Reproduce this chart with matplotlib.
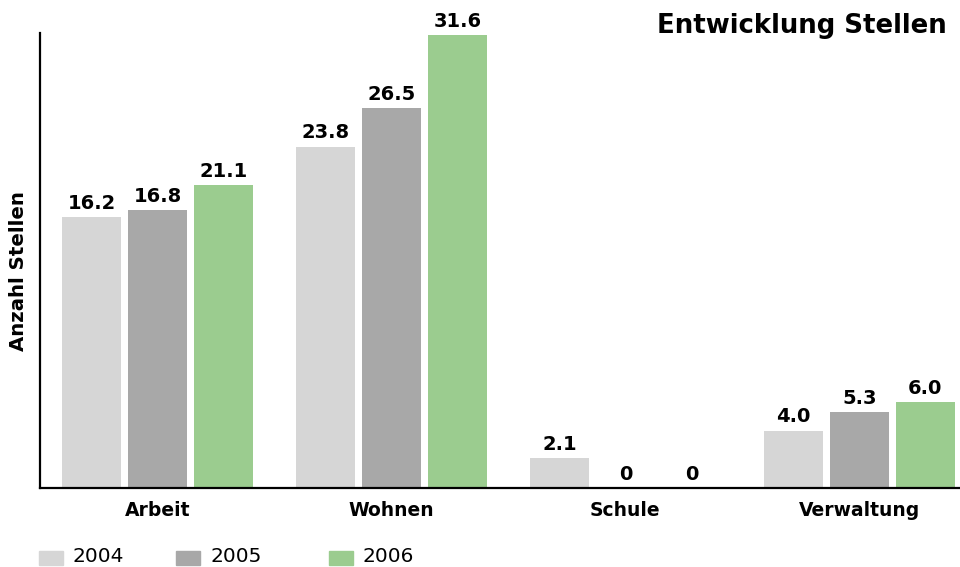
import numpy as np
import matplotlib
matplotlib.use("Agg")
import matplotlib.pyplot as plt
from matplotlib.patches import Rectangle

plt.rcParams['font.family'] = ['DejaVu Sans']

categories = ["Arbeit", "Wohnen", "Schule", "Verwaltung"]
years = ["2004", "2005", "2006"]
# bar heights as drawn in the picture
v2004 = [18.9, 23.8, 2.1, 4.0]
v2005 = [19.4, 26.5, 0.0, 5.3]
v2006 = [21.1, 31.6, 0.0, 6.0]
# printed value labels
l2004 = ["16.2", "23.8", "2.1", "4.0"]
l2005 = ["16.8", "26.5", "0", "5.3"]
l2006 = ["21.1", "31.6", "0", "6.0"]
colors = ["#d6d6d6", "#a8a8a8", "#9bcc8f"]

fig = plt.figure(figsize=(9.6, 5.67), dpi=100)
ax = fig.add_axes([40 / 960, 79 / 567, 920 / 960, 455 / 567])

x = np.arange(len(categories))
w = 0.252
off = 0.282
for i, (vals, labs) in enumerate(zip([v2004, v2005, v2006], [l2004, l2005, l2006])):
    xs = x + (i - 1) * off
    ax.bar(xs, vals, width=w, color=colors[i], linewidth=0)
    for xi, v, t in zip(xs, vals, labs):
        ax.text(xi, v + 0.3, t, ha="center", va="bottom", fontsize=14,
                fontweight="bold", clip_on=False)

ax.set_xlim(-0.502, 3.43)
ax.set_ylim(0, 31.73)
ax.set_xticks(x)
ax.set_xticklabels(categories, fontsize=13.5, fontweight="bold")
ax.tick_params(axis="x", length=0, pad=9)
ax.set_yticks([])
for s in ["top", "right"]:
    ax.spines[s].set_visible(False)
ax.spines["left"].set_linewidth(1.6)
ax.spines["bottom"].set_linewidth(1.6)

fig.text(19 / 960, 1 - 271 / 567, "Anzahl Stellen", rotation=90, ha="center",
         va="center", fontsize=14.2, fontweight="bold")
fig.text(947 / 960, 1 - 33 / 567, "Entwicklung Stellen", ha="right", va="baseline",
         fontsize=18.7, fontweight="bold")

# legend
leg_x = [39, 176, 329]
for lx, c, y in zip(leg_x, colors, years):
    fig.patches.append(Rectangle((lx / 960, 1 - 565 / 567), 24 / 960, 14 / 567,
                                 transform=fig.transFigure, color=c))
    fig.text((lx + 34) / 960, 1 - 557 / 567, y, ha="left", va="center", fontsize=14.5)

fig.savefig("out.png", dpi=100)
